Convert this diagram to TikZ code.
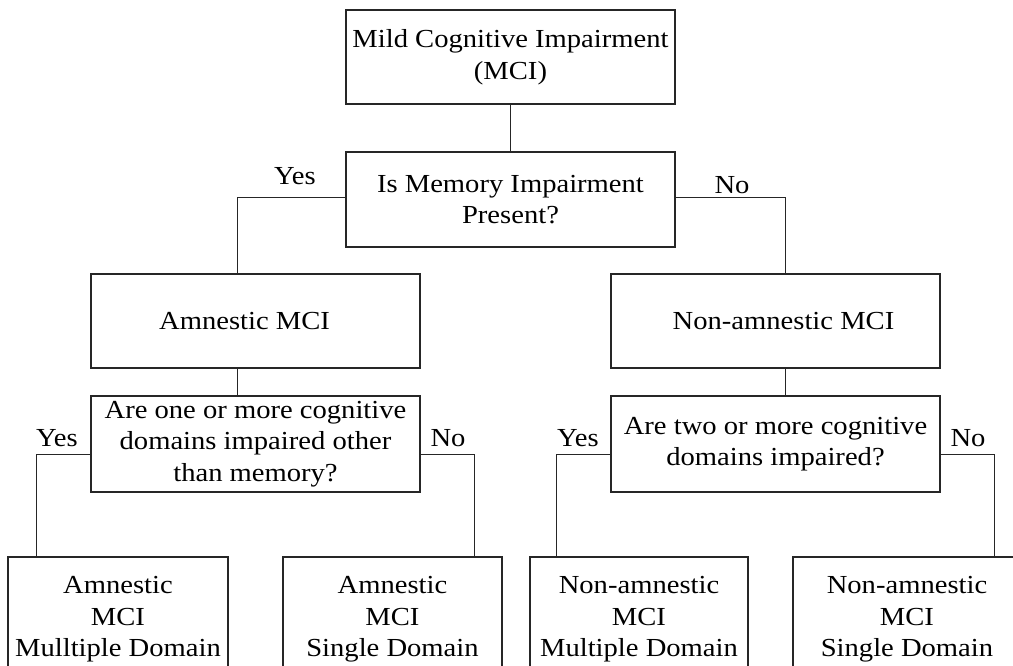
\documentclass[tikz,border=0pt]{standalone}
\usepackage{fontspec}
\setmainfont[FakeStretch=1.1]{Liberation Serif}
\usetikzlibrary{calc}
\begin{document}
\begin{tikzpicture}[x=1pt,y=-1pt,
  box/.style={draw=black!85, line width=1.4pt, rectangle, inner sep=0pt, align=center,
              font=\fontsize{26}{31.5}\selectfont},
  bigbox/.style={box, minimum width=329pt, minimum height=94pt},
  leaf/.style={box, minimum height=125pt},
  lab/.style={font=\fontsize{26}{31.5}\selectfont, inner sep=0pt},
  conn/.style={draw=black!85, line width=1pt}]
\useasboundingbox (0,0) rectangle (1013,666);
\clip (0,0) rectangle (1013,666);

% boxes
\node[bigbox] (mci) at (510.5,57) {Mild Cognitive Impairment\\(MCI)};
\node[bigbox, minimum height=95pt] (q1) at (510.5,199.5) {Is Memory Impairment\\Present?};
\node[bigbox] (amn) at (255.5,321) {Amnestic MCI\hspace*{22pt}};
\node[bigbox] (non) at (775.5,321) {\hspace*{16pt}Non-amnestic MCI};
\node[bigbox, minimum height=96pt] (q2) at (255.5,444) {Are one or more cognitive\\domains impaired other\\than memory?};
\node[bigbox, minimum height=96pt] (q3) at (775.5,444) {Are two or more cognitive\\domains impaired?};

\node[leaf, minimum width=220pt] (b1) at (118,619.5) {Amnestic\\MCI\\Mulltiple Domain};
\node[leaf, minimum width=219pt] (b2) at (392.5,619.5) {Amnestic\\MCI\\Single Domain};
\node[leaf, minimum width=218pt] (b3) at (639,619.5) {Non-amnestic\\MCI\\Multiple Domain};
\node[leaf, minimum width=228pt] (b4) at (907,619.5) {Non-amnestic\\MCI\\Single Domain};

% labels
\node[lab] (yes1) at (295,176.5) {Yes};
\node[lab] (no1) at (732,185) {No};
\node[lab] (yes2) at (57,438.5) {Yes};
\node[lab] (no2) at (448,438.5) {No};
\node[lab] (yes3) at (578,438.5) {Yes};
\node[lab] (no3) at (968,438.5) {No};

% branch corners
\coordinate (c1) at (237,198);
\coordinate (c2) at (785,198);
\coordinate (c3) at (36,454);
\coordinate (c4) at (474,454);
\coordinate (c5) at (556,454);
\coordinate (c6) at (994,454);

% connectors
\draw[conn] (mci.south) -- (q1.north);
\draw[conn] (q1.west |- c1) -- (c1) -- (c1 |- amn.north);
\draw[conn] (q1.east |- c2) -- (c2) -- (c2 |- non.north);
\draw[conn] (amn.south -| c1) -- (c1 |- q2.north);
\draw[conn] (non.south -| c2) -- (c2 |- q3.north);
\draw[conn] (q2.west |- c3) -- (c3) -- (c3 |- b1.north);
\draw[conn] (q2.east |- c4) -- (c4) -- (c4 |- b2.north);
\draw[conn] (q3.west |- c5) -- (c5) -- (c5 |- b3.north);
\draw[conn] (q3.east |- c6) -- (c6) -- (c6 |- b4.north);
\end{tikzpicture}
\end{document}
